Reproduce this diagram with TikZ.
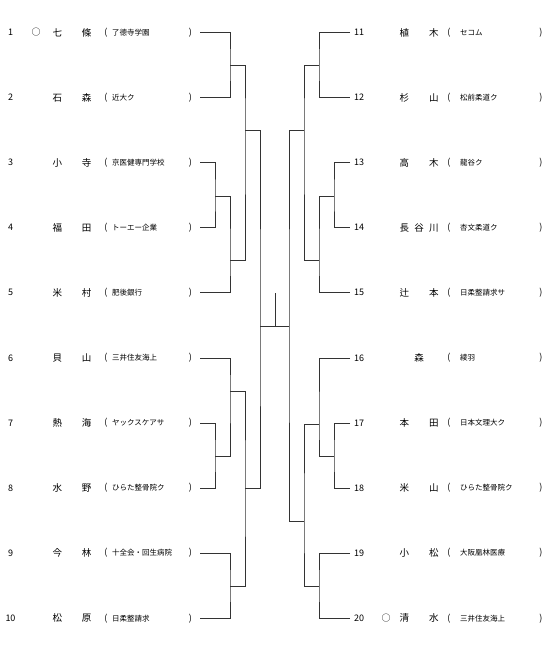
\documentclass[tikz,border=0pt]{standalone}
\usepackage{fontspec}
\setmainfont{Noto Sans CJK JP}
\tikzset{
  num/.style={inner sep=0pt, font=\fontsize{9}{9}\selectfont},
  pname/.style={inner sep=0pt, font=\fontsize{9.5}{10}\selectfont},
  team/.style={inner sep=0pt, anchor=west, font=\fontsize{7.5}{8}\selectfont},
  paren/.style={inner sep=0pt, font=\fontsize{9}{10}\selectfont},
  seed/.style={inner sep=0pt, font=\fontsize{9}{9}\selectfont},
  bracket/.style={draw=black!80, line width=0.75pt},
}
\begin{document}
\begin{tikzpicture}[x=1pt, y=-1pt]
  \useasboundingbox (0,0) rectangle (550,652);
  \foreach \n/\nm/\org [evaluate=\n as \y using 32.5+65.08*(\n-1)] in {
      1/七\hfill 條/了德寺学園, 2/石\hfill 森/近大ク, 3/小\hfill 寺/京医健専門学校,
      4/福\hfill 田/トーエー企業, 5/米\hfill 村/肥後銀行, 6/貝\hfill 山/三井住友海上,
      7/熱\hfill 海/ヤックスケアサ, 8/水\hfill 野/ひらた整骨院ク,
      9/今\hfill 林/十全会・回生病院, 10/松\hfill 原/日柔整請求}{
    \node[num] (no\n) at (10.5,\y) {\n};
    \node[pname] (nm\n) at (72,\y) {\makebox[39pt][s]{\nm}};
    \node[paren] (lp\n) at (106,\y) {(};
    \node[team] (org\n) at (112,\y) {\org};
    \node[paren] (rp\n) at (190.5,\y) {)};
    \coordinate (l\n) at (200,\y);
  }
  \foreach \n/\nm/\org [evaluate=\n as \y using 32.5+65.08*(\n-11)] in {
      11/植\hfill 木/セコム, 12/杉\hfill 山/松前柔道ク, 13/高\hfill 木/龍谷ク,
      14/長\hfill 谷\hfill 川/杏文柔道ク, 15/辻\hfill 本/日柔整請求サ, 16/\hfill 森\hfill/綾羽,
      17/本\hfill 田/日本文理大ク, 18/米\hfill 山/ひらた整骨院ク,
      19/小\hfill 松/大阪凰林医療, 20/清\hfill 水/三井住友海上}{
    \node[num, anchor=west] (no\n) at (354,\y) {\n};
    \node[pname] (nm\n) at (419,\y) {\makebox[39pt][s]{\nm}};
    \node[paren] (lp\n) at (449,\y) {(};
    \node[team] (org\n) at (460,\y) {\org};
    \node[paren] (rp\n) at (541,\y) {)};
    \coordinate (r\n) at (350,\y);
  }
  \node[seed] (seed1) at (36,32.5) {○};
  \node[seed] (seed20) at (386,618.2) {○};

  \coordinate (a1) at (230,65);
  \coordinate (a2) at (215,196);
  \coordinate (a3) at (230,260);
  \coordinate (a4) at (245,130);
  \coordinate (b1) at (230,391);
  \coordinate (b2) at (215,456);
  \coordinate (b3) at (230,586);
  \coordinate (b4) at (245,488);
  \coordinate (c) at (260,326);
  \coordinate (d1) at (319,65);
  \coordinate (d2) at (334,196);
  \coordinate (d3) at (319,260);
  \coordinate (d4) at (304,130);
  \coordinate (e1) at (319,424);
  \coordinate (e2) at (334,456);
  \coordinate (e3) at (319,586);
  \coordinate (e4) at (304,521);
  \coordinate (f) at (289,326);
  \coordinate (top) at (275,293);

  \draw[bracket] (l1) -| (a1) |- (l2);
  \draw[bracket] (l3) -| (a2) |- (l4);
  \draw[bracket] (a2) -| (a3) |- (l5);
  \draw[bracket] (a1) -| (a4) |- (a3);
  \draw[bracket] (l6) -| (b1) |- (b2);
  \draw[bracket] (l7) -| (b2) |- (l8);
  \draw[bracket] (l9) -| (b3) |- (l10);
  \draw[bracket] (b1) -| (b4) |- (b3);
  \draw[bracket] (a4) -| (c) |- (b4);
  \draw[bracket] (r11) -| (d1) |- (r12);
  \draw[bracket] (r13) -| (d2) |- (r14);
  \draw[bracket] (d2) -| (d3) |- (r15);
  \draw[bracket] (d1) -| (d4) |- (d3);
  \draw[bracket] (r16) -| (e1) |- (e2);
  \draw[bracket] (r17) -| (e2) |- (r18);
  \draw[bracket] (r19) -| (e3) |- (r20);
  \draw[bracket] (e1) -| (e4) |- (e3);
  \draw[bracket] (d4) -| (f) |- (e4);
  \draw[bracket] (c) -- (f);
  \draw[bracket] (top) -- (top |- c);
\end{tikzpicture}
\end{document}
